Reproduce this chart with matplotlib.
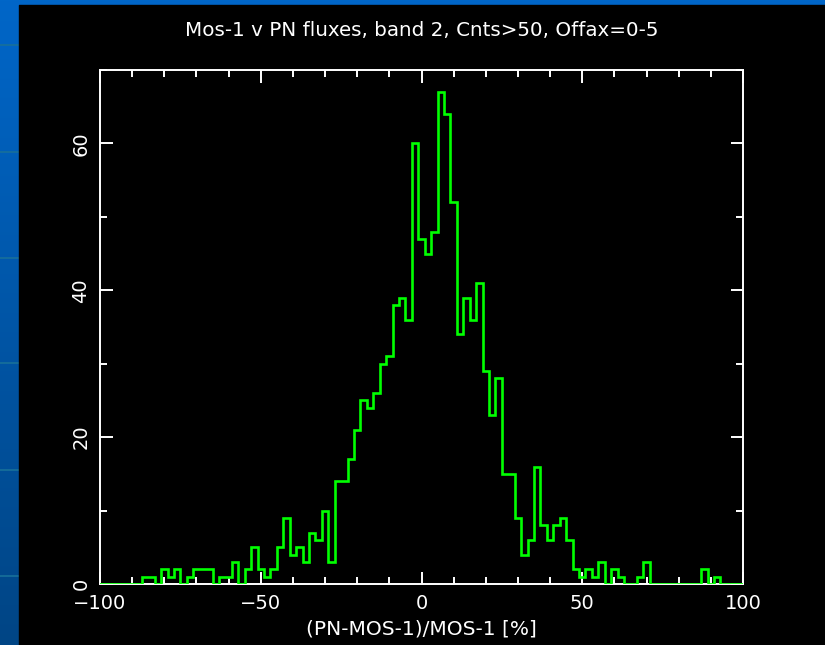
import numpy as np
import matplotlib
matplotlib.use("Agg")
import matplotlib.pyplot as plt
from matplotlib.ticker import MultipleLocator
from matplotlib.colors import LinearSegmentedColormap

# Bin centres (even values) and counts
bin_centers = list(range(-100, 101, 2))
counts = [
    0, 0, 0, 0, 0, 0, 0, 1, 1, 0,      # -100 .. -82
    2, 1, 2, 0, 1, 2, 2, 2, 0, 1,      # -80 .. -62
    1, 3, 0, 2, 5, 2, 1, 2, 5, 9,      # -60 .. -42
    4, 5, 3, 7, 6, 10, 3, 14, 14, 17,  # -40 .. -22
    21, 25, 24, 26, 30, 31, 38, 39, 36, 60,  # -20 .. -2
    47, 45, 48, 67, 64, 52, 34, 39, 36, 41,  # 0 .. 18
    29, 23, 28, 15, 15, 9, 4, 6, 16, 8,      # 20 .. 38
    6, 8, 9, 6, 2, 1, 2, 1, 3, 0,            # 40 .. 58
    2, 1, 0, 0, 1, 3, 0, 0, 0, 0,            # 60 .. 78
    0, 0, 0, 0, 2, 0, 1, 0, 0, 0,            # 80 .. 98
    0,                                       # 100
]
title = "Mos-1 v PN fluxes, band 2, Cnts>50, Offax=0-5"
xlabel = "(PN-MOS-1)/MOS-1 [%]"

plt.rcParams['font.family'] = ['DejaVu Sans']

W, H = 825, 645
fig = plt.figure(figsize=(W / 100, H / 100), dpi=100, facecolor='black')

# slide background: blue gradient with black panel
bg = fig.add_axes([0, 0, 1, 1])
bg.set_zorder(0)
bg.set_xlim(0, W)
bg.set_ylim(H, 0)
bg.axis('off')
cmap = LinearSegmentedColormap.from_list('slide', ['#0066c8', '#004585'])
bg.imshow(np.linspace(0, 1, 256).reshape(-1, 1), cmap=cmap, aspect='auto',
          extent=[0, W, H, 0], zorder=0)
for yl in [45, 152, 258, 363, 470, 576]:
    bg.plot([0, 19], [yl, yl], color='#17709a', lw=1.2, zorder=1)
bg.fill_between([19, W], 5, H, color='black', zorder=2)

ax = fig.add_axes([100 / W, (H - 584) / H, 643 / W, 514 / H])
ax.set_zorder(1)
ax.set_facecolor('black')

centers = np.array(bin_centers, dtype=float)
edges = np.concatenate([centers - 1, [centers[-1] + 1]])
ax.stairs(counts, edges, color='#00ff00', linewidth=1.9, baseline=0, zorder=2)

ax.set_xlim(-100, 100)
ax.set_ylim(0, 70)

for s in ax.spines.values():
    s.set_color('white')
    s.set_linewidth(1.4)
    s.set_zorder(1)

ax.xaxis.set_major_locator(MultipleLocator(50))
ax.xaxis.set_minor_locator(MultipleLocator(10))
ax.yaxis.set_major_locator(MultipleLocator(20))
ax.yaxis.set_minor_locator(MultipleLocator(10))

ax.tick_params(which='both', direction='in', top=True, right=True,
               colors='white', labelsize=14, width=1.4, zorder=3)
ax.tick_params(which='major', length=9)
ax.tick_params(which='minor', length=5)
ax.tick_params(axis='x', which='major', pad=7)
ax.tick_params(axis='y', which='major', pad=7)
for lab in ax.get_yticklabels():
    lab.set_rotation(90)
    lab.set_va('center')

ax.set_xlabel(xlabel, color='white', fontsize=14.5, labelpad=5)
fig.text((100 + 743) / 2 / W, 1 - 30 / H, title, color='white',
         fontsize=14.3, ha='center', va='center')

fig.savefig('out.png', dpi=100, facecolor=fig.get_facecolor())
